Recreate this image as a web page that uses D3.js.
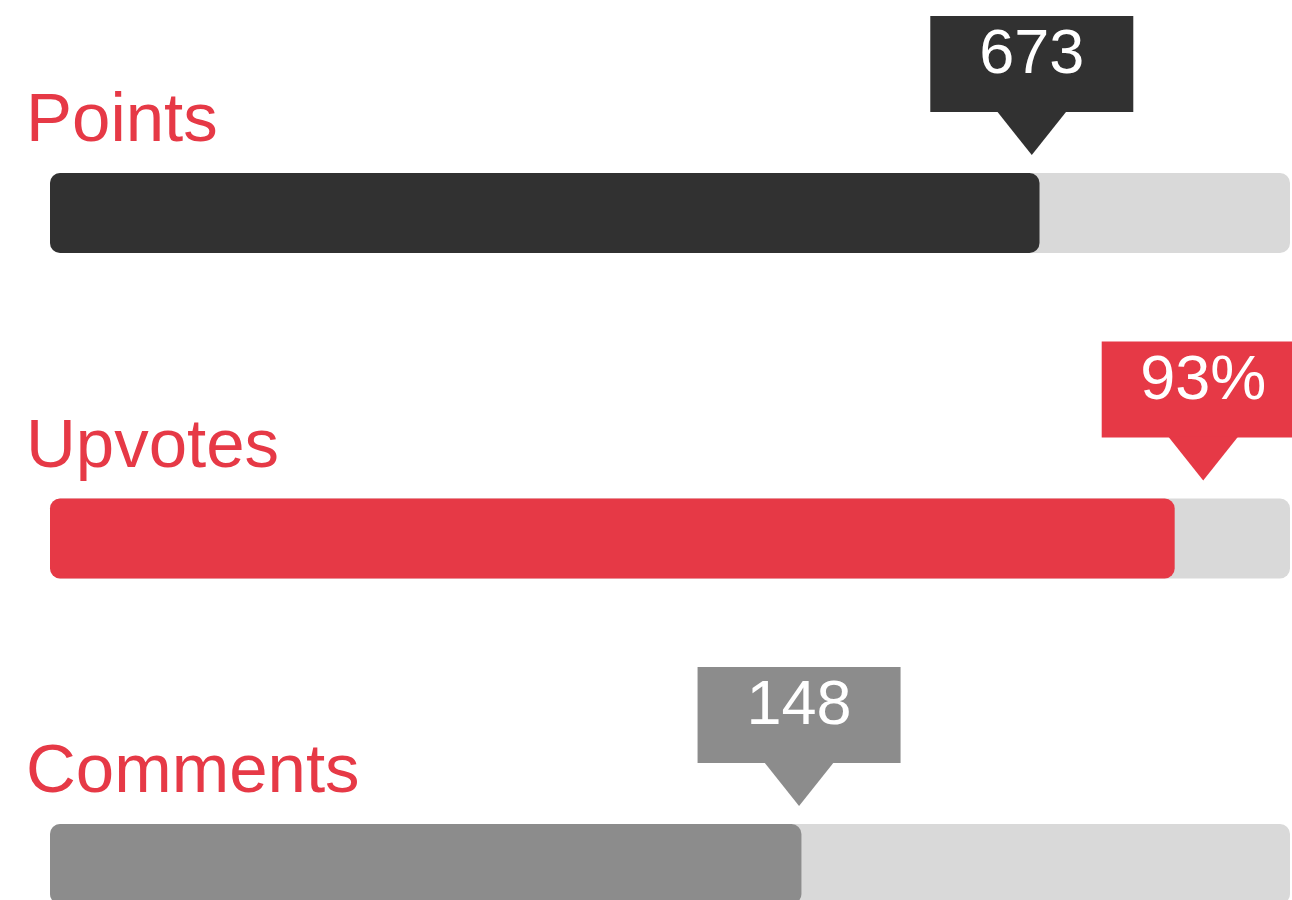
<!DOCTYPE html>
<html>
<head>
<meta charset="utf-8">
<script src="https://cdn.jsdelivr.net/npm/d3@7"></script>
<style>
  body { margin: 0; background: #fff; overflow: hidden; }
  text { font-family: "Liberation Sans", Arial, Helvetica, sans-serif; }
</style>
</head>
<body>
<div id="bars"></div>
<script>
// metric names and values
var metrics = ["Points", "Upvotes", "Comments"];
var values = [673, 93, 148];
var valueLabels = ["673", "93%", "148"];
// full scale of each metric (pointer sits at value / max)
var maxima = [850, 100, 245];
// share of the track that the filled bar covers, as drawn
var fillShares = [0.798, 0.907, 0.606];
var fillColors = ["#313131", "#e63946", "#8c8c8c"];

var width = 1292, height = 900,
    barHeight = 80, boxW = 203, boxH = 96, arrowW = 70, arrowH = 43;

var rows = metrics.map(function(m, i) {
    return { name: m, value: values[i], label: valueLabels[i], max: maxima[i], share: fillShares[i], color: fillColors[i] };
});

var svg = d3.select("#bars").append("svg")
    .attr("width", width)
    .attr("height", height);

// track scale: 0..1 share of the bar
var xScale = d3.scaleLinear().domain([0, 1]).range([50, 1290]);
// vertical position of each bar
var yScale = d3.scalePoint().domain(metrics).range([173, 824]);

var row = svg.selectAll(".row")
    .data(rows)
    .enter().append("g")
    .attr("class", "row")
    .attr("transform", function(d) { return "translate(0," + yScale(d.name) + ")"; });

row.append("text")
    .attr("x", 26)
    .attr("y", -32)
    .style("font-size", "69px")
    .style("fill", "#e63946")
    .text(function(d) { return d.name; });

// background track
row.append("rect")
    .attr("x", xScale(0))
    .attr("width", xScale(1) - xScale(0))
    .attr("height", barHeight)
    .attr("rx", 10)
    .style("fill", "#d9d9d9");

// filled part
row.append("rect")
    .attr("x", xScale(0))
    .attr("width", function(d) { return xScale(d.share) - xScale(0); })
    .attr("height", barHeight)
    .attr("rx", 10)
    .style("fill", function(d) { return d.color; });

// value tooltip
var tip = row.append("g")
    .attr("transform", function(d) { return "translate(" + xScale(d.value / d.max) + ",0)"; });

tip.append("rect")
    .attr("x", -boxW / 2)
    .attr("y", -157)
    .attr("width", boxW)
    .attr("height", boxH)
    .style("fill", function(d) { return d.color; });

tip.append("path")
    .attr("d", "M" + (-arrowW / 2) + "," + (-157 + boxH - 1) + "L" + (arrowW / 2) + "," + (-157 + boxH - 1) + "L0," + (-157 + boxH + arrowH) + "Z")
    .style("fill", function(d) { return d.color; });

tip.append("text")
    .attr("text-anchor", "middle")
    .attr("y", -100)
    .style("font-size", "63px")
    .style("fill", "#fff")
    .text(function(d) { return d.label; });
</script>
</body>
</html>
